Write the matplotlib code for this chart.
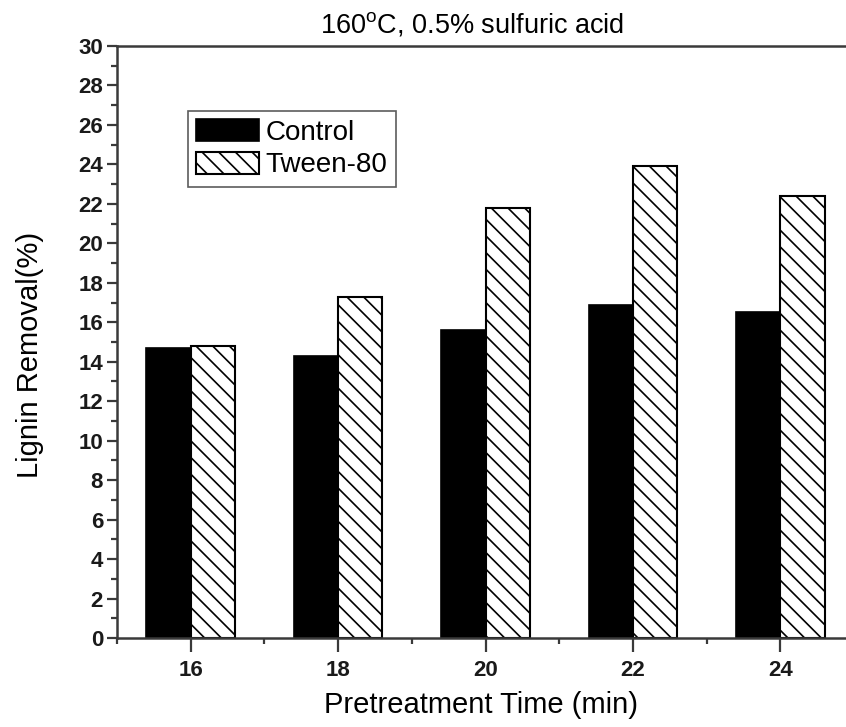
import numpy as np
import matplotlib
matplotlib.use('Agg')
import matplotlib.pyplot as plt
from matplotlib.ticker import MultipleLocator

plt.rcParams['font.family'] = ['Liberation Sans', 'DejaVu Sans']
plt.rcParams['hatch.linewidth'] = 1.2

# dados
tempos = [16, 18, 20, 22, 24]
controle = [14.7, 14.3, 15.6, 16.9, 16.5]
tween80 = [14.8, 17.3, 21.8, 23.9, 22.4]

fig = plt.figure(figsize=(8.46, 7.27), dpi=100)
# eixo maior que a figura: a borda direita fica cortada como no original
ax = fig.add_axes([117 / 846, 89 / 727, 737 / 846, 592 / 727])

largura = 0.6
x = np.array(tempos)
ax.bar(x - largura / 2, controle, width=largura, color='black',
       edgecolor='black', linewidth=1.2, label='Control')
ax.bar(x + largura / 2, tween80, width=largura, color='white',
       edgecolor='black', linewidth=1.5, hatch='\\\\', label='Tween-80')

ax.set_xlim(15, 25)
ax.set_ylim(0, 30)
ax.set_xticks(tempos)
ax.xaxis.set_minor_locator(MultipleLocator(1))
ax.yaxis.set_major_locator(MultipleLocator(2))
ax.yaxis.set_minor_locator(MultipleLocator(1))

cor_eixo = '#3a3a3a'
for lado in ['left', 'bottom', 'top', 'right']:
    ax.spines[lado].set_color(cor_eixo)
    ax.spines[lado].set_linewidth(1.8)

ax.tick_params(axis='both', which='major', direction='out', color=cor_eixo,
               width=1.6, labelsize=16)
ax.tick_params(axis='y', which='major', length=7, pad=3)
ax.tick_params(axis='x', which='major', length=10, pad=6)
ax.tick_params(axis='both', which='minor', direction='out', color=cor_eixo,
               width=1.6, length=4.3)
for rotulo in ax.get_xticklabels() + ax.get_yticklabels():
    rotulo.set_fontweight('bold')
    rotulo.set_color('#1a1a1a')

fig.text(472 / 846, 1 - 25 / 727, '160$^{\\mathregular{o}}$C, 0.5% sulfuric acid',
         ha='center', va='center', fontsize=19.5)
fig.text(481 / 846, 1 - 705 / 727, 'Pretreatment Time (min)',
         ha='center', va='center', fontsize=21)
fig.text(30 / 846, 1 - 355 / 727, 'Lignin Removal(%)', rotation=90,
         ha='center', va='center', fontsize=21)

leg = ax.legend(loc='upper left', bbox_to_anchor=(188 / 846, 1 - 111 / 727),
                bbox_transform=fig.transFigure, fontsize=20, frameon=True,
                fancybox=False, handlelength=2.25, handleheight=0.85,
                handletextpad=0.25, borderpad=0.3, labelspacing=0.2,
                borderaxespad=0)
leg.get_frame().set_edgecolor('#333333')
leg.get_frame().set_linewidth(1.2)

plt.savefig('out.png', dpi=100)
